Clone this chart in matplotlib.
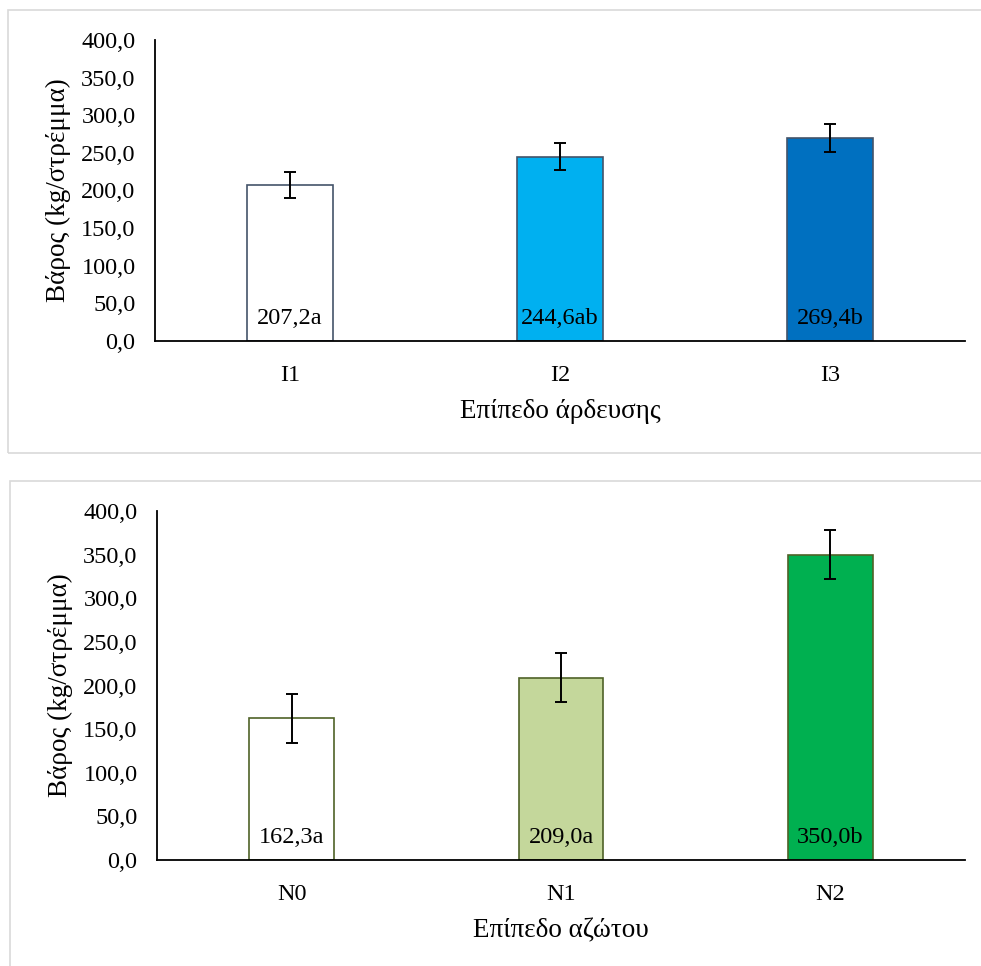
import numpy as np
import matplotlib
matplotlib.use('Agg')
from matplotlib import pyplot as plt
from matplotlib.patches import Rectangle

plt.rcParams['font.family'] = ['Liberation Serif', 'DejaVu Serif']

# irrigation panel
irr_labels = ['I1', 'I2', 'I3']
irr_means = [207.2, 244.6, 269.4]
irr_err = [17.5, 18.0, 18.5]
irr_text = ['207,2a', '244,6ab', '269,4b']
irr_colors = ['#FFFFFF', '#00B0F0', '#0070C0']

# nitrogen panel
nit_labels = ['N0', 'N1', 'N2']
nit_means = [162.3, 209.0, 350.0]
nit_err = [28.0, 28.0, 28.5]
nit_text = ['162,3a', '209,0a', '350,0b']
nit_colors = ['#FFFFFF', '#C4D79B', '#00B050']

yticks = [0, 50, 100, 150, 200, 250, 300, 350, 400]
ylab = 'Βάρος (kg/στρέμμα)'
fs = 17.5
fs_lab = 19.5

W, H = 981, 966
fig = plt.figure(figsize=(W/100, H/100), dpi=100)

# light grey chart-area frames
fig.add_artist(Rectangle((8/W, (H-453)/H), 1.0, (453-10)/H, transform=fig.transFigure,
                         fill=False, edgecolor='#D9D9D9', lw=1.2))
fig.add_artist(Rectangle((10/W, -0.05), 1.0, (H-481)/H+0.05, transform=fig.transFigure,
                         fill=False, edgecolor='#D9D9D9', lw=1.2))

ax1 = fig.add_axes([155/W, (H-341)/H, (965-155)/W, (341-40)/H])
ax2 = fig.add_axes([157/W, (H-860)/H, (965-157)/W, (860-511)/H])


def draw(ax, labels, means, err, text, colors, edge, xlabel):
    x = np.arange(len(labels))
    ax.bar(x, means, width=0.315, color=colors, edgecolor=edge, linewidth=1.2, zorder=2)
    ax.errorbar(x, means, yerr=err, fmt='none', ecolor='black', elinewidth=1.4,
                capsize=4.5, capthick=1.4, zorder=3)
    for xi, t in zip(x, text):
        ax.annotate(t, (xi, 0), xytext=(0, 16.5), textcoords='offset points',
                    ha='center', va='center', fontsize=fs, zorder=4)
    ax.set_xlim(-0.5, len(labels)-0.5)
    ax.set_ylim(0, 400)
    ax.set_yticks(yticks)
    ax.set_yticklabels([('%.1f' % v).replace('.', ',') for v in yticks])
    ax.set_xticks(x)
    ax.set_xticklabels(labels)
    ax.tick_params(axis='both', length=0, labelsize=fs)
    ax.tick_params(axis='y', pad=14)
    ax.tick_params(axis='x', pad=17)
    for s in ['top', 'right']:
        ax.spines[s].set_visible(False)
    for s in ['left', 'bottom']:
        ax.spines[s].set_linewidth(1.3)
    ax.set_ylabel(ylab, fontsize=fs_lab, labelpad=7)
    ax.set_xlabel(xlabel, fontsize=fs_lab, labelpad=10)


draw(ax1, irr_labels, irr_means, irr_err, irr_text, irr_colors, '#44546A', 'Επίπεδο άρδευσης')
draw(ax2, nit_labels, nit_means, nit_err, nit_text, nit_colors, '#4F6228', 'Επίπεδο αζώτου')

fig.savefig('out.png', dpi=100)
